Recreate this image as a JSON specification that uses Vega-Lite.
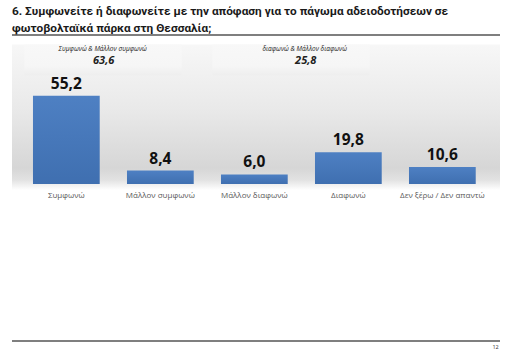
{
  "$schema": "https://vega.github.io/schema/vega-lite/v6.json",
  "width": 488,
  "height": 306,
  "autosize": "none",
  "padding": {"left": 12, "top": 35, "right": 16, "bottom": 15},
  "background": "white",
  "config": {
    "view": {"stroke": null},
    "locale": {"number": {"decimal": ",", "thousands": ".", "grouping": [3], "currency": ["", " €"]}},
    "font": "Open Sans"
  },
  "title": {
    "text": ["6. Συμφωνείτε ή διαφωνείτε με την απόφαση για το πάγωμα αδειοδοτήσεων σε", "φωτοβολταϊκά πάρκα στη Θεσσαλία;"],
    "anchor": "start",
    "frame": "group",
    "font": "Roboto",
    "fontSize": 11.8,
    "fontWeight": "bold",
    "color": "#1a1a1a",
    "lineHeight": 17,
    "baseline": "alphabetic",
    "offset": -10
  },
  "datasets": {
    "bars": [
      {"answer": "Συμφωνώ", "pct": 55.2},
      {"answer": "Μάλλον συμφωνώ", "pct": 8.4},
      {"answer": "Μάλλον διαφωνώ", "pct": 6.0},
      {"answer": "Διαφωνώ", "pct": 19.8},
      {"answer": "Δεν ξέρω / Δεν απαντώ", "pct": 10.6}
    ]
  },
  "encoding": {
    "x": {
      "field": "answer",
      "type": "nominal",
      "sort": null,
      "scale": {
        "domain": ["Συμφωνώ", "Μάλλον συμφωνώ", "Μάλλον διαφωνώ", "Διαφωνώ", "Δεν ξέρω / Δεν απαντώ"],
        "paddingInner": 0.29, "paddingOuter": 0.2407, "align": 0.4636
      },
      "axis": null
    }
  },
  "layer": [
    {
      "data": {"values": [{"top": 87.2, "bottom": -3.8}]},
      "mark": {
        "type": "rect",
        "fill": {
          "gradient": "linear", "x1": 0, "y1": 0, "x2": 0, "y2": 1,
          "stops": [
            {"offset": 0, "color": "#f7f7f7"},
            {"offset": 0.45, "color": "#e9e9e9"},
            {"offset": 0.85, "color": "#d6d6d6"},
            {"offset": 0.93, "color": "#e2e2e2"},
            {"offset": 1, "color": "#ffffff"}
          ]
        }
      },
      "encoding": {
        "x": null,
        "y": {"field": "top", "type": "quantitative", "scale": {"domain": [-98.1, 93.1], "nice": false, "zero": false}, "axis": null},
        "y2": {"field": "bottom"}
      }
    },
    {
      "data": {"values": [
        {"from": "Συμφωνώ", "to": "Μάλλον συμφωνώ", "top": 87.2, "bottom": 68},
        {"from": "Μάλλον διαφωνώ", "to": "Διαφωνώ", "top": 87.2, "bottom": 68}
      ]},
      "mark": {
        "type": "rect",
        "fill": {
          "gradient": "linear", "x1": 0, "y1": 0, "x2": 0, "y2": 1,
          "stops": [
            {"offset": 0, "color": "#f8f8f8"},
            {"offset": 0.7, "color": "#f6f6f6"},
            {"offset": 1, "color": "#eeeeee"}
          ]
        }
      },
      "encoding": {
        "x": {"field": "from", "type": "nominal", "sort": null, "bandPosition": -0.13},
        "x2": {"field": "to", "bandPosition": 0.82},
        "y": {"field": "top", "type": "quantitative"},
        "y2": {"field": "bottom"}
      }
    },
    {
      "data": {"name": "bars"},
      "mark": {
        "type": "bar",
        "fill": {
          "gradient": "linear", "x1": 0, "y1": 0, "x2": 0, "y2": 1,
          "stops": [
            {"offset": 0, "color": "#4e80c3"},
            {"offset": 1, "color": "#3f6fb0"}
          ]
        }
      },
      "encoding": {
        "y": {"field": "pct", "type": "quantitative"}
      }
    },
    {
      "data": {"name": "bars"},
      "mark": {"type": "text", "baseline": "alphabetic", "dy": -7, "fontSize": 15.5, "fontWeight": "bold", "color": "#111111", "font": "Open Sans"},
      "encoding": {
        "y": {"field": "pct", "type": "quantitative"},
        "text": {"field": "pct", "type": "quantitative", "format": ".1f"}
      }
    },
    {
      "data": {"name": "bars"},
      "mark": {"type": "text", "baseline": "middle", "dy": 12, "fontSize": 8, "color": "#595959", "font": "Open Sans"},
      "encoding": {
        "y": {"datum": 0, "type": "quantitative"},
        "text": {"field": "answer"}
      }
    },
    {
      "data": {"values": [
        {"anchor": "Συμφωνώ", "group": "Συμφωνώ & Μάλλον συμφωνώ", "total": "63,6"}
      ]},
      "layer": [
        {
          "mark": {"type": "text", "baseline": "middle", "fontSize": 6.5, "fontStyle": "italic", "color": "#222222", "dx": 3},
          "encoding": {
            "x": {"field": "anchor", "type": "nominal", "sort": null, "bandPosition": 1},
            "y": {"datum": 84.6, "type": "quantitative"},
            "text": {"field": "group"}
          }
        },
        {
          "mark": {"type": "text", "baseline": "middle", "fontSize": 11, "fontStyle": "italic", "fontWeight": "bold", "color": "#222222", "dx": 4},
          "encoding": {
            "x": {"field": "anchor", "type": "nominal", "sort": null, "bandPosition": 1},
            "y": {"datum": 77.0, "type": "quantitative"},
            "text": {"field": "total"}
          }
        }
      ]
    },
    {
      "data": {"values": [
        {"anchor": "Μάλλον διαφωνώ", "group": "διαφωνώ & Μάλλον διαφωνώ", "total": "25,8"}
      ]},
      "layer": [
        {
          "mark": {"type": "text", "baseline": "middle", "fontSize": 6.5, "fontStyle": "italic", "color": "#222222", "dx": 17},
          "encoding": {
            "x": {"field": "anchor", "type": "nominal", "sort": null, "bandPosition": 1},
            "y": {"datum": 84.6, "type": "quantitative"},
            "text": {"field": "group"}
          }
        },
        {
          "mark": {"type": "text", "baseline": "middle", "fontSize": 11, "fontStyle": "italic", "fontWeight": "bold", "color": "#222222", "dx": 18},
          "encoding": {
            "x": {"field": "anchor", "type": "nominal", "sort": null, "bandPosition": 1},
            "y": {"datum": 77.0, "type": "quantitative"},
            "text": {"field": "total"}
          }
        }
      ]
    },
    {
      "data": {"values": [{"edge": 93.1}, {"edge": -98.1}]},
      "mark": {"type": "rule", "color": "#555555", "strokeWidth": 1.5},
      "encoding": {
        "x": null,
        "y": {"field": "edge", "type": "quantitative"}
      }
    },
    {
      "data": {"values": [{"anchor": "Δεν ξέρω / Δεν απαντώ", "page": "12", "pos": -98.1}]},
      "mark": {"type": "text", "align": "right", "baseline": "middle", "dy": 6, "dx": 23, "fontSize": 5.5, "color": "#333333"},
      "encoding": {
        "x": {"field": "anchor", "type": "nominal", "sort": null, "bandPosition": 1},
        "y": {"field": "pos", "type": "quantitative"},
        "text": {"field": "page"}
      }
    }
  ]
}
